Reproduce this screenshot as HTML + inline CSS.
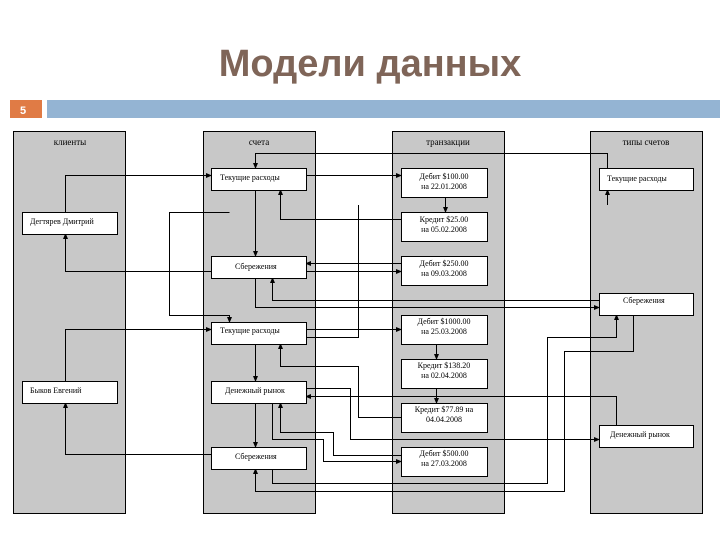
<!DOCTYPE html>
<html><head><meta charset="utf-8"><style>
body{margin:0;width:720px;height:540px;background:#fff;overflow:hidden;font-family:"Liberation Sans",sans-serif}
</style></head><body>
<svg width="720" height="540" xmlns="http://www.w3.org/2000/svg">
<defs><marker id="a" markerWidth="6" markerHeight="6" refX="5" refY="3" orient="auto" markerUnits="userSpaceOnUse"><path d="M0,0.5 L6,3 L0,5.5z" fill="#000"/></marker></defs>
<text x="370" y="76" text-anchor="middle" font-family="Liberation Sans" font-weight="bold" font-size="38" fill="#7f6558">Модели данных</text>
<rect x="10" y="100" width="32" height="18" fill="#e07b45"/>
<text x="20" y="114" font-size="11" font-weight="bold" fill="#fff">5</text>
<rect x="47" y="100" width="673" height="18" fill="#94b4d3"/>
<g fill="#c8c8c8" stroke="#000" stroke-width="1">
<rect x="13.5" y="131.5" width="112" height="382"/>
<rect x="203.5" y="131.5" width="112" height="382"/>
<rect x="392.5" y="131.5" width="112" height="382"/>
<rect x="590.5" y="131.5" width="112" height="382"/>
</g>
<g font-family="Liberation Serif" font-size="9" text-anchor="middle" fill="#000">
<text x="70" y="145">клиенты</text><text x="259" y="145">счета</text><text x="448" y="145">транзакции</text><text x="646" y="145">типы счетов</text>
</g>
<g fill="none" stroke="#000" stroke-width="1">
<polyline points="65.5,212 65.5,175.5 211,175.5" marker-end="url(#a)"/>
<polyline points="211,271.5 65.5,271.5 65.5,234" marker-end="url(#a)"/>
<polyline points="65.5,381 65.5,329.5 211,329.5" marker-end="url(#a)"/>
<polyline points="211,454.5 65.5,454.5 65.5,403" marker-end="url(#a)"/>
<polyline points="607.5,168 607.5,153.5 255.5,153.5 255.5,168" marker-end="url(#a)"/>
<polyline points="607.5,205 607.5,190" marker-end="url(#a)"/>
<polyline points="306,175.5 401,175.5" marker-end="url(#a)"/>
<polyline points="445.5,197 445.5,212" marker-end="url(#a)"/>
<polyline points="401,219.5 280.5,219.5 280.5,190" marker-end="url(#a)"/>
<polyline points="255.5,190 255.5,256" marker-end="url(#a)"/>
<polyline points="229.5,212.5 169.5,212.5 169.5,315.5 229.5,315.5 229.5,322" marker-end="url(#a)"/>
<polyline points="358.5,205 358.5,337.5 306,337.5"/>
<polyline points="401,263.5 306,263.5" marker-end="url(#a)"/>
<polyline points="306,271.5 401,271.5" marker-end="url(#a)"/>
<polyline points="599,300.5 272.5,300.5 272.5,278" marker-end="url(#a)"/>
<polyline points="255.5,278 255.5,307.5 599,307.5" marker-end="url(#a)"/>
<polyline points="306,329.5 401,329.5" marker-end="url(#a)"/>
<polyline points="255.5,344 255.5,381" marker-end="url(#a)"/>
<polyline points="255.5,403 255.5,447" marker-end="url(#a)"/>
<polyline points="436.5,344 436.5,359" marker-end="url(#a)"/>
<polyline points="436.5,388 436.5,403" marker-end="url(#a)"/>
<polyline points="401,417.5 358.5,417.5 358.5,366.5 280.5,366.5 280.5,344" marker-end="url(#a)"/>
<polyline points="616.5,425 616.5,396.5 306,396.5" marker-end="url(#a)"/>
<polyline points="306,388.5 350.5,388.5 350.5,439.5 599,439.5" marker-end="url(#a)"/>
<polyline points="401,455.5 333.5,455.5 333.5,432.5 280.5,432.5 280.5,403" marker-end="url(#a)"/>
<polyline points="272.5,403 272.5,439.5 323.5,439.5 323.5,461.5 401,461.5" marker-end="url(#a)"/>
<polyline points="272.5,469 272.5,483.5 547.5,483.5 547.5,337.5 616.5,337.5 616.5,315" marker-end="url(#a)"/>
<polyline points="633.5,315 633.5,351.5 564.5,351.5 564.5,491.5 255.5,491.5 255.5,469" marker-end="url(#a)"/>
</g>
<g fill="#fff" stroke="#000" stroke-width="1">
<rect x="22.5" y="212.5" width="95" height="22"/><rect x="22.5" y="381.5" width="95" height="22"/>
<rect x="211.5" y="168.5" width="95" height="22"/><rect x="211.5" y="256.5" width="95" height="22"/>
<rect x="211.5" y="322.5" width="95" height="22"/><rect x="211.5" y="381.5" width="95" height="22"/>
<rect x="211.5" y="447.5" width="95" height="22"/>
<rect x="401.5" y="168.5" width="86" height="29"/><rect x="401.5" y="212.5" width="86" height="29"/>
<rect x="401.5" y="256.5" width="86" height="29"/><rect x="401.5" y="315.5" width="86" height="29"/>
<rect x="401.5" y="359.5" width="86" height="29"/><rect x="401.5" y="403.5" width="86" height="29"/>
<rect x="401.5" y="447.5" width="86" height="29"/>
<rect x="599.5" y="168.5" width="94" height="22"/><rect x="599.5" y="293.5" width="94" height="22"/>
<rect x="599.5" y="425.5" width="94" height="22"/>
</g>
<g font-family="Liberation Serif" font-size="8" fill="#000">
<text x="30" y="224">Дегтярев Дмитрий</text><text x="30" y="393">Быков Евгений</text>
<text x="220" y="180">Текущие расходы</text><text x="235" y="269">Сбережения</text>
<text x="220" y="333">Текущие расходы</text><text x="225" y="393">Денежный рынок</text>
<text x="235" y="459">Сбережения</text>
<text x="607" y="181">Текущие расходы</text><text x="623" y="303">Сбережения</text>
<text x="610" y="437">Денежный рынок</text>
</g>
<g font-family="Liberation Serif" font-size="8" fill="#000" text-anchor="middle">
<text x="444" y="179">Дебит $100.00</text><text x="444" y="189">на 22.01.2008</text>
<text x="444" y="222">Кредит $25.00</text><text x="444" y="232">на 05.02.2008</text>
<text x="444" y="266">Дебит $250.00</text><text x="444" y="276">на 09.03.2008</text>
<text x="444" y="324">Дебит $1000.00</text><text x="444" y="334">на 25.03.2008</text>
<text x="444" y="368">Кредит $138.20</text><text x="444" y="378">на 02.04.2008</text>
<text x="444" y="412">Кредит $77.89 на</text><text x="444" y="422">04.04.2008</text>
<text x="444" y="456">Дебит $500.00</text><text x="444" y="466">на 27.03.2008</text>
</g>
</svg>
</body></html>
